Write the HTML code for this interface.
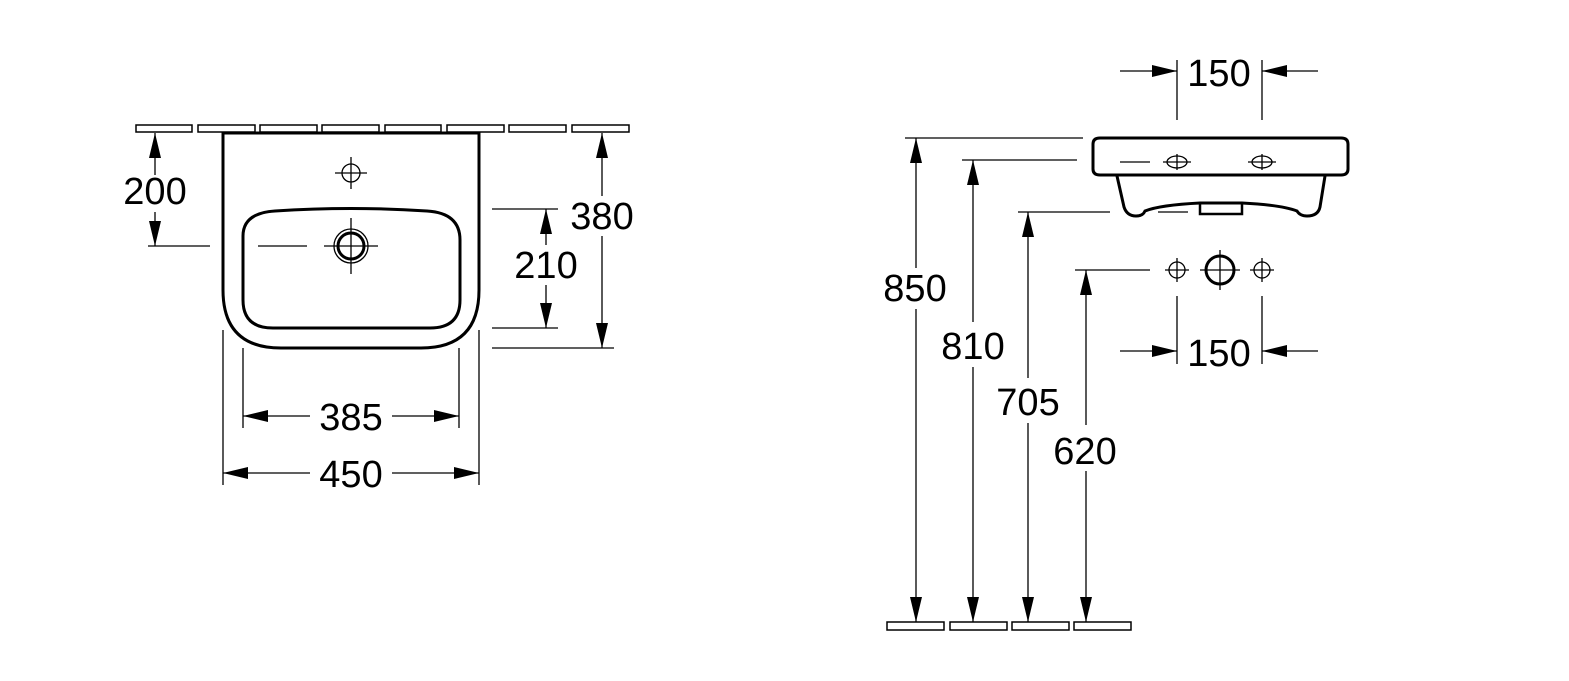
<!DOCTYPE html>
<html><head><style>body{margin:0;background:#fff}svg{display:block}text{font-family:"Liberation Sans",Arial,sans-serif;font-size:38px;fill:#000;text-anchor:middle}</style></head>
<body>
<svg width="1569" height="681" viewBox="0 0 1569 681" xmlns="http://www.w3.org/2000/svg">
<defs>
<marker id="a" viewBox="0 0 25 12" refX="25" refY="6" markerWidth="25" markerHeight="12" markerUnits="userSpaceOnUse" orient="auto"><path d="M0,0 L25,6 L0,12z" fill="#000"/></marker>
</defs>
<g fill="none" stroke="#000" stroke-width="1.5">
<rect x="136" y="125" width="56" height="7"/><rect x="198" y="125" width="57" height="7"/><rect x="260" y="125" width="57" height="7"/><rect x="322" y="125" width="57" height="7"/><rect x="385" y="125" width="56" height="7"/><rect x="447" y="125" width="57" height="7"/><rect x="509" y="125" width="57" height="7"/><rect x="572" y="125" width="57" height="7"/>
<rect x="887" y="622" width="57" height="8"/><rect x="950" y="622" width="57" height="8"/><rect x="1012" y="622" width="57" height="8"/><rect x="1074" y="622" width="57" height="8"/>
</g>
<g fill="none" stroke="#000" stroke-width="3">
<path d="M223,133 H479 V290 Q479,348 421,348 H281 Q223,348 223,290 Z"/>
<path d="M243,236 Q243,213 275,211 Q351,206 427,211 Q460,213 460,240 V300 Q460,328 430,328 H273 Q243,328 243,300 Z"/>
<circle cx="351" cy="246" r="13"/>
<circle cx="1220" cy="270" r="14"/>
<path d="M1093,144 Q1093,138 1100,138 H1341 Q1348,138 1348,144 V169 Q1348,175 1341,175 H1100 Q1093,175 1093,169 Z"/>
<path d="M1117,176 L1124,207 Q1127,216 1136,216 Q1143,216 1145,211 Q1160,205 1200,203 H1242 Q1282,205 1297,211 Q1300,216 1307,216 Q1318,216 1320,207 L1325,176"/>
<path d="M1200,204 V214 H1242 V204" stroke-width="2.5"/>
</g>
<g fill="none" stroke="#000" stroke-width="1.3">
<circle cx="351" cy="246" r="17"/>
<circle cx="351" cy="173" r="9"/>
<path d="M335,173 H367 M351,157 V189 M324,246 H378 M351,218 V274 M258,246 H307 M148,246 H210"/>
<ellipse cx="1177" cy="162" rx="10" ry="6"/><ellipse cx="1262" cy="162" rx="10" ry="6"/>
<path d="M1163,162 H1191 M1177,154 V170 M1248,162 H1276 M1262,154 V170 M1120,162 H1150"/>
<circle cx="1177" cy="270" r="8"/><circle cx="1262" cy="270" r="8"/>
<path d="M1165,270 H1189 M1177,258 V282 M1250,270 H1274 M1262,258 V282 M1200,270 H1240 M1220,250 V290"/>
<path d="M492,209 H558 M492,328 H558 M492,348 H614 M223,330 V485 M479,330 V485 M243,348 V428 M459,348 V428"/>
<path d="M905,138 H1083 M962,160 H1077 M1018,212 H1110 M1158,212 H1188 M1075,270 H1150 M1177,60 V120 M1262,60 V120 M1177,296 V364 M1262,296 V364"/>
<path d="M155,175 V133" marker-end="url(#a)"/><path d="M155,212 V246" marker-end="url(#a)"/>
<path d="M602,196 V133" marker-end="url(#a)"/><path d="M602,236 V348" marker-end="url(#a)"/>
<path d="M546,245 V209" marker-end="url(#a)"/><path d="M546,285 V328" marker-end="url(#a)"/>
<path d="M310,416 H243" marker-end="url(#a)"/><path d="M392,416 H459" marker-end="url(#a)"/>
<path d="M310,473 H223" marker-end="url(#a)"/><path d="M392,473 H479" marker-end="url(#a)"/>
<path d="M1120,71 H1177" marker-end="url(#a)"/><path d="M1318,71 H1262" marker-end="url(#a)"/>
<path d="M1120,351 H1177" marker-end="url(#a)"/><path d="M1318,351 H1262" marker-end="url(#a)"/>
<path d="M916,268 V138" marker-end="url(#a)"/><path d="M916,309 V622" marker-end="url(#a)"/>
<path d="M973,322 V160" marker-end="url(#a)"/><path d="M973,367 V622" marker-end="url(#a)"/>
<path d="M1028,378 V212" marker-end="url(#a)"/><path d="M1028,423 V622" marker-end="url(#a)"/>
<path d="M1086,425 V270" marker-end="url(#a)"/><path d="M1086,471 V622" marker-end="url(#a)"/>
</g>
<text x="155" y="204">200</text>
<text x="602" y="229">380</text>
<text x="546" y="278">210</text>
<text x="351" y="430">385</text>
<text x="351" y="487">450</text>
<text x="1219" y="86">150</text>
<text x="1219" y="366">150</text>
<text x="915" y="301">850</text>
<text x="973" y="359">810</text>
<text x="1028" y="415">705</text>
<text x="1085" y="464">620</text>
</svg>
</body></html>
